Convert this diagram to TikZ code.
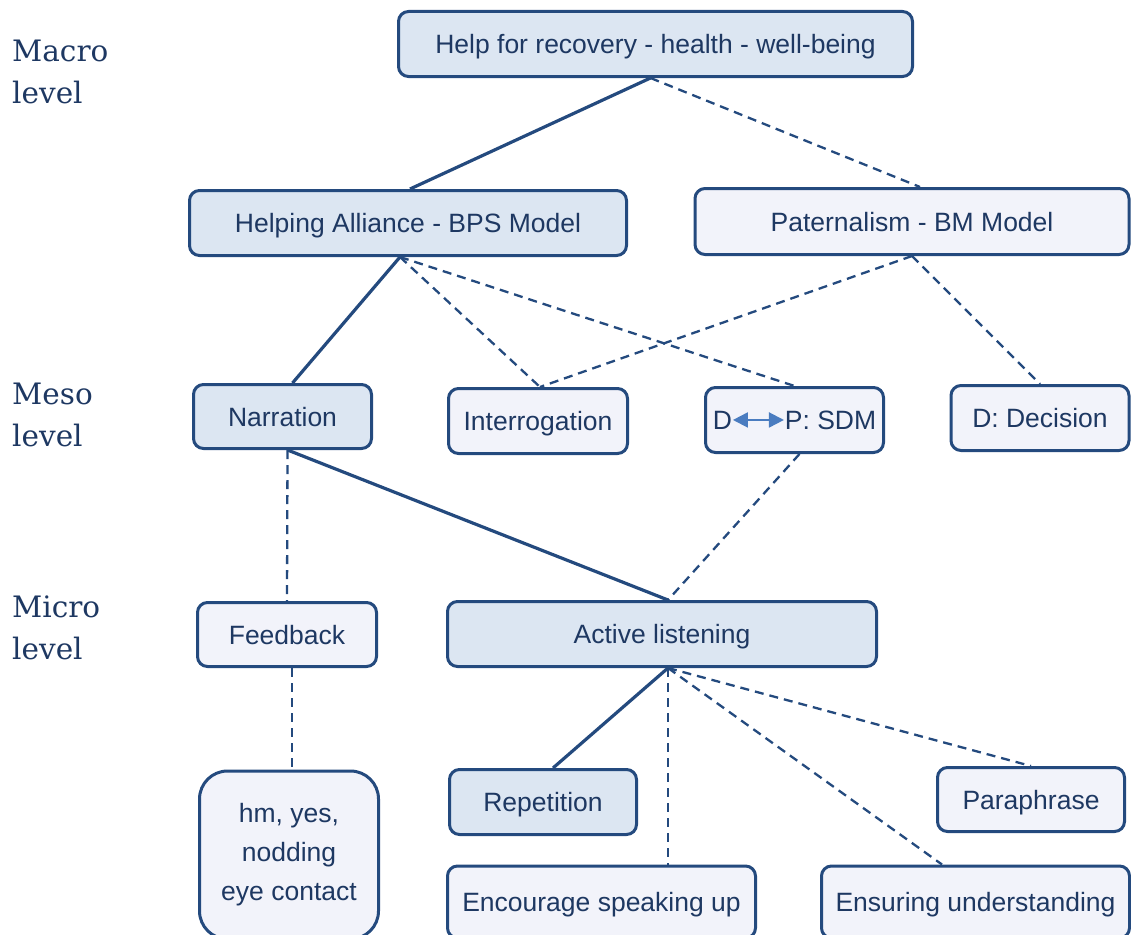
\documentclass[tikz,border=0pt]{standalone}
\usepackage{fontspec}
\setmainfont{Liberation Sans}
\newfontfamily\levelfont{DejaVu Serif}
\usetikzlibrary{arrows.meta}
\definecolor{edge}{RGB}{36,74,126}
\definecolor{ink}{RGB}{30,56,98}
\definecolor{filldark}{RGB}{220,230,242}
\definecolor{filllight}{RGB}{242,243,250}
\definecolor{arrowblue}{RGB}{74,124,192}
\tikzset{
  box/.style={draw=edge, line width=3pt, rounded corners=10pt, inner sep=0pt,
    text=ink, font=\fontsize{26.5}{31}\selectfont,
    text height=19pt, text depth=0pt},
  darkbox/.style={box, fill=filldark},
  lightbox/.style={box, fill=filllight},
  strong/.style={draw=edge, line width=3.2pt},
  weak/.style={draw=edge, line width=2.3pt, dash pattern=on 9pt off 6pt},
  levellabel/.style={anchor=north west, inner sep=0pt, text=ink, align=left,
    font=\levelfont\fontsize{29.5}{42}\selectfont},
}
\begin{document}
\begin{tikzpicture}[x=1pt, y=-1pt]
\useasboundingbox (0,0) rectangle (1131,934);
\clip (0,0) rectangle (1131,934);

% level labels
\node[levellabel] (macro) at (12,40) {Macro\\level};
\node[levellabel] (meso) at (12,383) {Meso\\level};
\node[levellabel] (micro) at (12,596) {Micro\\level};

% macro level
\node[darkbox, minimum width=514pt, minimum height=65pt] (help) at (655.5,44) {Help for recovery - health - well-being};
\node[darkbox, minimum width=437pt, minimum height=65pt] (hba) at (408,223) {Helping Alliance - BPS Model};
\node[lightbox, minimum width=434pt, minimum height=66pt] (pat) at (912,221.5) {Paternalism - BM Model};

% meso level
\node[darkbox, minimum width=178pt, minimum height=64pt] (nar) at (282.5,416.5) {Narration};
\node[lightbox, minimum width=179pt, minimum height=65pt] (int) at (538,421) {Interrogation};
\node[lightbox, minimum width=178pt, minimum height=65pt] (sdm) at (794.5,420)
  {D\tikz[baseline=-0.36em]\draw[arrowblue, line width=2pt, {Triangle[length=15pt,width=15pt]}-{Triangle[length=15pt,width=15pt]}] (0,0) -- (51pt,0);P: SDM};
\node[lightbox, minimum width=178pt, minimum height=65pt] (dec) at (1040,418) {D: Decision};

% micro level
\node[lightbox, minimum width=179pt, minimum height=64pt] (fb) at (287,634.5) {Feedback};
\node[darkbox, minimum width=429pt, minimum height=65pt] (al) at (662,634) {Active listening};
\node[lightbox, rounded corners=28pt, minimum width=179pt, minimum height=168pt,
  text height=, text depth=, align=center, font=\fontsize{26.5}{39}\selectfont] (hm) at (289,855) {hm, yes,\\nodding\\eye contact};
\node[darkbox, minimum width=187pt, minimum height=65pt] (rep) at (543,802) {Repetition};
\node[lightbox, minimum width=187pt, minimum height=64pt] (para) at (1031,799.5) {Paraphrase};
\node[lightbox, minimum width=308pt, minimum height=72pt] (enc) at (601.5,902) {Encourage speaking up};
\node[lightbox, minimum width=308pt, minimum height=72pt] (ens) at (975.5,902) {Ensuring understanding};

% connectors: macro to meso
\draw[strong] ([xshift=-5pt]help.south) -- ([xshift=2pt]hba.north);
\draw[weak] ([xshift=-5pt]help.south) -- ([xshift=8pt]pat.north);
\draw[strong] ([xshift=-8pt]hba.south) -- ([xshift=10pt]nar.north);
\draw[weak] ([xshift=-8pt]hba.south) -- ([xshift=2pt]int.north);
\draw[weak] ([xshift=-8pt]hba.south) -- (sdm.north);
\draw[weak] (pat.south) -- ([xshift=2pt]int.north);
\draw[weak] (pat.south) -- (dec.north);

% connectors: meso to micro
\draw[weak] ([xshift=5pt]nar.south) -- (fb.north);
\draw[strong] ([xshift=5pt]nar.south) -- ([xshift=6pt]al.north);
\draw[weak] ([xshift=5pt]sdm.south) -- ([xshift=6pt]al.north);

% connectors: micro details
\draw[weak] ([xshift=5pt]fb.south) -- ([xshift=3pt]hm.north);
\draw[strong] ([xshift=6pt]al.south) -- ([xshift=10pt]rep.north);
\draw[weak] ([xshift=6pt]al.south) -- ([xshift=66.5pt]enc.north);
\draw[weak] ([xshift=6pt]al.south) -- ([xshift=-33.5pt]ens.north);
\draw[weak] ([xshift=6pt]al.south) -- (para.north);
\end{tikzpicture}
\end{document}
